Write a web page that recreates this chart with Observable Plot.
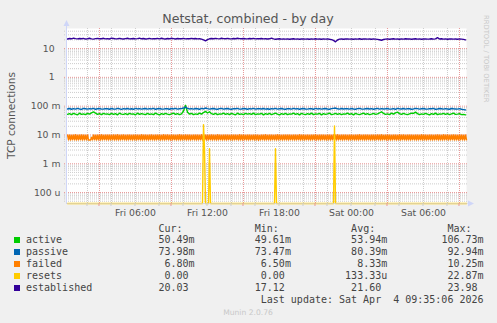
<!DOCTYPE html>
<html><head><meta charset="utf-8">
<script src="https://cdn.jsdelivr.net/npm/d3@7"></script>
<script src="https://cdn.jsdelivr.net/npm/@observablehq/plot@0.6"></script>
<style>html,body{margin:0;padding:0;background:#f0f0f0;overflow:hidden}</style>
</head><body><div id="chart"></div>
<script>
// ---------- text ----------
const title = "Netstat, combined - by day";
const yLabel = "TCP connections";
const watermark = "RRDTOOL / TOBI OETIKER";
const footer = "Munin 2.0.76";
const lastUpdate = "Last update: Sat Apr  4 09:35:06 2026";

// ---------- series ----------
const seriesNames = ["active", "passive", "failed", "resets", "established"];
const seriesColors = ["#00CC00", "#0066B3", "#FF8000", "#FFCC00", "#330099"];
const legendHeaders = ["Cur:", "Min:", "Avg:", "Max:"];
const legendCur = ["50.49m", "73.98m", "6.80m", "0.00 ", "20.03 "];
const legendMin = ["49.61m", "73.47m", "6.50m", "0.00 ", "17.12 "];
const legendAvg = ["53.94m", "80.39m", "8.33m", "133.33u", "21.60 "];
const legendMax = ["106.73m", "92.94m", "10.25m", "22.87m", "23.98 "];

// ---------- axis ticks ----------
const yTicks = [10, 1, 0.1, 0.01, 0.001, 0.0001];
const yTickLabels = ["10\u00a0\u00a0", "1\u00a0\u00a0", "100\u00a0m", "10\u00a0m", "1\u00a0m", "100\u00a0u"];
const xTicks = ["2026-04-03T06:00:00Z", "2026-04-03T12:00:00Z", "2026-04-03T18:00:00Z", "2026-04-04T00:00:00Z", "2026-04-04T06:00:00Z"];
const xTickLabels = ["Fri 06:00", "Fri 12:00", "Fri 18:00", "Sat 00:00", "Sat 06:00"];

// time window (last 400 x 5 min)
const T0 = Date.UTC(2026, 3, 3, 0, 15, 6);
const T1 = Date.UTC(2026, 3, 4, 9, 35, 6);
const Y_MIN = 4.17e-5, Y_MAX = 49.7;

// ---------- values, 10-minute samples (200) ----------
// established (connections)
const established = [
21.5,22.4,21.8,22.9,22.1,21.6,22.3,21.9,22.6,21.4,22.0,22.8,21.7,21.3,22.2,22.5,21.8,22.0,22.7,21.6,
22.1,21.5,22.9,22.3,21.7,22.0,22.6,21.9,21.4,22.2,22.8,21.6,22.0,22.4,21.7,22.1,22.9,21.8,22.3,21.5,
22.0,22.6,21.7,22.2,21.9,22.5,21.6,22.8,22.0,21.4,22.3,21.8,22.7,22.1,21.5,22.4,21.9,22.0,22.6,21.7,
22.2,21.8,22.5,21.9,22.3,21.6,22.0,21.2,20.1,18.6,20.5,21.8,22.4,21.9,22.6,22.1,21.7,22.8,22.2,21.9,
22.5,22.0,21.6,22.3,21.9,22.7,22.1,21.8,22.4,22.0,21.7,22.3,21.9,22.5,21.6,22.1,21.8,22.3,21.7,22.0,
21.4,21.8,23.0,21.6,21.1,21.5,21.9,21.3,21.7,21.2,21.6,21.0,21.5,21.8,21.3,21.6,21.1,21.4,21.7,21.2,
21.5,21.0,21.6,21.3,21.8,21.2,21.5,21.1,21.6,21.3,21.7,21.0,20.4,19.2,17.1,19.8,21.2,21.5,21.0,21.4,
21.7,21.2,21.5,21.0,21.6,21.3,21.8,21.1,21.4,21.7,21.2,21.5,21.0,21.6,21.3,20.8,20.2,19.4,20.6,21.3,
21.6,21.1,21.5,21.8,21.2,21.5,21.0,21.6,21.3,22.0,21.4,21.7,21.1,21.5,21.8,21.2,21.6,21.0,21.4,21.7,
21.2,21.5,21.9,21.3,21.6,23.9,21.5,21.8,21.2,21.6,21.0,21.4,21.7,21.3,21.5,21.1,21.6,21.2,20.8,20.0];
// passive (milli)
const passive = [
80,83,78,82,79,84,80,77,83,81,79,82,80,84,78,81,83,79,80,82,
81,78,83,80,79,84,81,77,82,80,83,79,81,78,84,80,82,79,81,83,
79,82,80,84,78,81,83,80,79,82,81,78,83,80,84,79,81,82,86,93,
84,80,82,79,83,81,78,84,80,86,82,79,81,83,80,78,82,84,79,81,
83,80,78,82,81,84,79,80,83,81,78,82,80,84,79,81,82,80,83,79,
81,78,82,80,84,79,81,83,80,78,82,81,79,84,80,82,78,81,83,80,
79,82,81,78,84,80,82,79,81,83,80,78,82,84,86,81,79,83,80,82,
81,79,83,80,78,82,84,80,79,81,83,80,82,78,81,84,79,82,80,81,
83,79,80,82,78,84,81,80,83,79,82,81,78,80,84,82,79,81,83,80,
79,82,81,84,78,80,83,81,79,82,80,78,83,81,80,79,82,78,76,74];
// active (milli)
const active = [
52,55,51,56,53,50,57,52,54,51,56,53,58,63,57,52,55,51,56,53,
54,51,56,52,55,50,57,53,52,55,51,56,53,54,50,57,52,55,53,51,
56,52,54,51,57,53,50,55,52,56,53,51,54,57,52,55,51,54,68,107,
62,53,56,51,54,52,57,53,60,66,58,64,55,52,56,51,54,53,57,52,
55,51,56,53,50,57,52,54,51,56,53,55,52,57,51,54,53,56,50,55,
52,56,51,54,57,53,50,55,52,56,51,54,53,57,52,55,50,56,53,51,
55,52,57,51,54,53,56,50,55,52,54,57,51,53,56,52,55,51,54,53,
57,52,55,50,56,53,51,54,57,52,55,51,53,56,52,54,58,64,56,52,
54,51,57,53,58,62,55,52,56,53,51,54,57,56,62,55,51,54,52,56,
53,50,55,52,57,51,54,53,56,52,55,51,54,57,52,53,55,51,52,50];
// resets (milli), 5-minute samples (400)
const resets = [
0,0,0,0,0,0,0,0,0,0,0,0,0,0,0,0,0,0,0,0,
0,0,0,0,0,0,0,0,0,0,0,0,0,0,0,0,0,0,0,0,
0,0,0,0,0,0,0,0,0,0,0,0,0,0,0,0,0,0,0,0,
0,0,0,0,0,0,0,0,0,0,0,0,0,0,0,0,0,0,0,0,
0,0,0,0,0,0,0,0,0,0,0,0,0,0,0,0,0,0,0,0,
0,0,0,0,0,0,0,0,0,0,0,0,0,0,0,0,0,0,0,0,
0,0,0,0,0,0,0,0,0,0,0,0,0,0,0,0,22.87,3.33,0,0,
0,0,3.33,0,0,0,0,0,0,0,0,0,0,0,0,0,0,0,0,0,
0,0,0,0,0,0,0,0,0,0,0,0,0,0,0,0,0,0,0,0,
0,0,0,0,0,0,0,0,0,0,0,0,0,0,0,0,0,0,0,0,
0,0,0,0,0,0,0,0,3.33,0,0,0,0,0,0,0,0,0,0,0,
0,0,0,0,0,0,0,0,0,0,0,0,0,0,0,0,0,0,0,0,
0,0,0,0,0,0,0,0,0,0,0,0,0,0,0,0,0,0,0,0,
0,0,0,0,0,0,0,20.5,0,0,0,0,0,0,0,0,0,0,0,0,
0,0,0,0,0,0,0,0,0,0,0,0,0,0,0,0,0,0,0,0,
0,0,0,0,0,0,0,0,0,0,0,0,0,0,0,0,0,0,0,0,
0,0,0,0,0,0,0,0,0,0,0,0,0,0,0,0,0,0,0,0,
0,0,0,0,0,0,0,0,0,0,0,0,0,0,0,0,0,0,0,0,
0,0,0,0,0,0,0,0,0,0,0,0,0,0,0,0,0,0,0,0,
0,0,0,0,0,0,0,0,0,0,0,0,0,0,0,0,0,0,0,0];
// failed (milli), 5-minute samples (400)
const failed = [
10.0,6.7,10.1,6.6,9.9,6.8,10.0,6.7,10.2,6.6,9.9,6.7,10.0,6.8,10.1,6.6,10.0,6.7,9.9,6.7,
10.1,6.6,6.7,6.6,8.3,6.7,10.0,6.8,9.9,6.6,10.1,6.7,10.0,6.6,10.2,6.7,9.9,6.8,10.0,6.7,
10.1,6.6,10.0,6.7,9.9,6.8,10.1,6.6,10.0,6.7,10.2,6.6,9.9,6.7,10.0,6.8,10.1,6.7,9.9,6.6,
10.0,6.7,10.1,6.8,9.9,6.6,10.0,6.7,10.1,6.6,10.0,6.8,9.9,6.7,10.2,6.6,10.0,6.7,10.1,6.7,
9.9,6.6,10.0,6.8,10.1,6.7,9.9,6.6,10.0,6.7,10.1,6.8,10.0,6.6,9.9,6.7,10.2,6.6,10.0,6.8,
10.1,6.7,9.9,6.6,10.0,6.7,10.1,6.8,9.9,6.6,10.0,6.7,10.2,6.6,10.0,6.7,9.9,6.8,10.1,6.6,
10.0,6.7,10.1,6.6,9.9,6.8,10.0,6.7,10.1,6.6,10.0,6.7,9.9,6.8,10.2,6.6,10.0,6.7,10.1,6.6,
9.9,6.7,10.0,6.8,10.1,6.6,10.0,6.7,9.9,6.6,10.25,6.7,10.0,6.8,9.9,6.6,10.1,6.7,10.0,6.6,
10.1,6.8,9.9,6.7,10.0,6.6,10.1,6.7,10.0,6.8,9.9,6.6,10.2,6.7,10.0,6.6,10.1,6.8,9.9,6.7,
10.0,6.6,10.1,6.7,9.9,6.8,10.0,6.6,10.1,6.7,10.0,6.5,9.9,6.7,10.1,6.8,10.0,6.6,10.2,6.7,
9.9,6.7,10.0,6.6,10.1,6.8,9.9,6.7,10.0,6.6,10.2,6.7,10.0,6.8,9.9,6.6,10.1,6.7,10.0,6.7,
10.1,6.6,10.0,6.8,9.9,6.7,10.1,6.6,10.0,6.7,9.9,6.8,10.2,6.6,10.0,6.7,10.1,6.6,9.9,6.8,
10.0,6.7,9.9,6.6,10.1,6.7,10.0,6.8,10.2,6.6,9.9,6.7,10.0,6.6,10.1,6.8,10.0,6.7,9.9,6.6,
10.1,6.7,10.0,6.6,9.9,6.8,10.1,6.7,10.0,6.6,10.2,6.7,9.9,6.8,10.0,6.6,10.1,6.7,10.0,6.8,
9.9,6.6,10.1,6.7,10.0,6.8,9.9,6.6,10.1,6.7,10.0,6.6,10.2,6.8,9.9,6.7,10.0,6.6,10.1,6.7,
10.0,6.8,9.9,6.6,10.1,6.7,10.0,6.6,9.9,6.8,10.1,6.7,10.0,6.6,10.2,6.7,9.9,6.8,10.0,6.6,
10.1,6.7,10.0,6.6,9.9,6.7,10.1,6.8,10.0,6.6,9.9,6.7,10.2,6.6,10.0,6.8,10.1,6.7,9.9,6.6,
10.0,6.7,10.1,6.6,10.0,6.8,9.9,6.7,10.1,6.6,10.0,6.7,9.9,6.8,10.2,6.6,10.0,6.7,10.1,6.6,
9.9,6.8,10.0,6.7,10.1,6.6,9.9,6.7,10.0,6.8,10.1,6.6,10.0,6.7,9.9,6.6,10.2,6.7,10.0,6.8,
10.1,6.6,9.9,6.7,10.0,6.8,10.1,6.6,10.0,6.7,9.9,6.6,10.1,6.8,10.0,6.7,9.9,6.6,10.0,6.8];

// ---------- build tables ----------
const STEP10 = 600e3, STEP5 = 300e3;
function toRows(vals, step, k) {
  return vals.map((v, i) => ({t: new Date(T0 + 300e3 + i * step), v: v * k > 0 ? v * k : Y_MIN}));
}
const dActive = toRows(active, STEP10, 1e-3);
const dPassive = toRows(passive, STEP10, 1e-3);
const dFailed = toRows(failed, STEP5, 1e-3);
const dResets = toRows(resets, STEP5, 1e-3);
const dEstab = toRows(established, STEP10, 1);

// grid positions
const minorX = d3.utcHour.every(2).range(new Date(T0), new Date(T1));
const majorX = d3.utcHour.range(new Date(T0), new Date(T1)).filter(d => d.getUTCHours() % 6 === 3);
const minorY = [];
for (let e = -5; e <= 1; e++) for (let m = 2; m <= 9; m++) { const v = m * Math.pow(10, e); if (v > Y_MIN && v < Y_MAX) minorY.push(v); }
const xTickDates = xTicks.map(s => new Date(s));

const gridGrey = "#cccccc", gridRed = "#e89898", axisCol = "#CFD6F8";
const lw = 1.4;

const chartSvg = Plot.plot({
  width: 497, height: 323,
  marginLeft: 66, marginRight: 31, marginTop: 28, marginBottom: 120,
  style: {background: "#f0f0f0", fontFamily: "DejaVu Sans", fontSize: "9.3px", color: "#555"},
  x: {type: "utc", domain: [new Date(T0), new Date(T1)], ticks: xTickDates,
      tickFormat: d => xTickLabels[xTickDates.findIndex(t => +t === +d)], tickSize: 0, tickPadding: 6, label: null},
  y: {type: "log", domain: [Y_MIN, Y_MAX], ticks: yTicks,
      tickFormat: d => yTickLabels[yTicks.indexOf(d)], tickSize: 0, tickPadding: 6, label: null},
  marks: [
    Plot.frame({fill: "white", stroke: "none"}),
    Plot.ruleY(minorY, {stroke: gridGrey, strokeDasharray: "1,1", strokeWidth: 1, insetLeft: -2, insetRight: -2}),
    Plot.ruleX(minorX, {stroke: gridGrey, strokeDasharray: "1,1", strokeWidth: 1}),
    Plot.ruleY(yTicks, {stroke: gridRed, strokeDasharray: "1,1", strokeWidth: 1, insetLeft: -2, insetRight: -2}),
    Plot.ruleX(majorX, {stroke: gridRed, strokeDasharray: "1,1", strokeWidth: 1}),
    Plot.ruleY([Y_MIN], {stroke: axisCol, strokeWidth: 1}),
    Plot.ruleX([new Date(T0)], {stroke: axisCol, strokeWidth: 1}),
    Plot.line(dActive, {x: "t", y: "v", stroke: seriesColors[0], strokeWidth: lw}),
    Plot.line(dPassive, {x: "t", y: "v", stroke: seriesColors[1], strokeWidth: lw}),
    Plot.line(dFailed, {x: "t", y: "v", stroke: seriesColors[2], strokeWidth: lw}),
    Plot.line(dResets, {x: "t", y: "v", stroke: seriesColors[3], strokeWidth: lw}),
    Plot.line(dEstab, {x: "t", y: "v", stroke: seriesColors[4], strokeWidth: lw})
  ]
});
document.getElementById("chart").appendChild(chartSvg);

// ---------- decorations ----------
const svgSel = d3.select(chartSvg);
const sx = chartSvg.scale("x"), sy = chartSvg.scale("y");
const pxLeft = sx.apply(new Date(T0)), pxRight = sx.apply(new Date(T1));
const pxBottom = sy.apply(Y_MIN), pxTop = sy.apply(Y_MAX);
const g = svgSel.append("g");
// axis extensions + arrows
g.append("line").attr("x1", pxLeft).attr("x2", pxRight + 4).attr("y1", pxBottom + 0.5).attr("y2", pxBottom + 0.5).attr("stroke", axisCol).attr("opacity", 0.6);
g.append("line").attr("x1", pxLeft + 0.5).attr("x2", pxLeft + 0.5).attr("y1", pxBottom).attr("y2", pxTop - 3).attr("stroke", axisCol);
g.append("path").attr("d", `M${pxRight + 2},${pxBottom - 2.5}L${pxRight + 8},${pxBottom + 0.5}L${pxRight + 2},${pxBottom + 3.5}Z`).attr("fill", axisCol);
g.append("path").attr("d", `M${pxLeft - 2.5},${pxTop - 2}L${pxLeft + 0.5},${pxTop - 8}L${pxLeft + 3.5},${pxTop - 2}Z`).attr("fill", axisCol);
// small ticks under x axis
minorX.forEach(d => g.append("line").attr("x1", sx.apply(d)).attr("x2", sx.apply(d)).attr("y1", pxBottom).attr("y2", pxBottom + 3).attr("stroke", gridGrey));
majorX.forEach(d => g.append("line").attr("x1", sx.apply(d)).attr("x2", sx.apply(d)).attr("y1", pxBottom).attr("y2", pxBottom + 3).attr("stroke", gridRed));

// title
g.append("text").attr("x", 248).attr("y", 22.5).attr("text-anchor", "middle")
  .attr("font-family", "DejaVu Sans").attr("font-size", 12.6).attr("fill", "#555").text(title);
// y label
g.append("text").attr("transform", `translate(15,${(pxTop + pxBottom) / 2}) rotate(-90)`).attr("text-anchor", "middle")
  .attr("font-family", "DejaVu Sans").attr("font-size", 10.6).attr("fill", "#555").text(yLabel);
// watermark
g.append("text").attr("transform", "translate(483.5,15) rotate(90)").attr("text-anchor", "start")
  .attr("font-family", "DejaVu Sans").attr("font-size", 6.8).attr("fill", "#c8c8c8").text(watermark);

// legend (monospace)
const legX = 26;
function monoText(str, x, y, anchor) {
  return g.append("text").attr("x", x).attr("y", y).attr("text-anchor", anchor || "start")
    .attr("font-family", "DejaVu Sans Mono").attr("font-size", 10).attr("fill", "#444")
    .attr("xml:space", "preserve").style("white-space", "pre").text(str);
}
const header = "".padEnd(22) + legendHeaders.map((h, i) => i < 3 ? h.padEnd(16) : h).join("");
monoText(header, legX, 231.5);
seriesNames.forEach((name, i) => {
  const base = 243 + 12 * i;
  g.append("rect").attr("x", 14).attr("y", base - 6).attr("width", 6).attr("height", 6).attr("fill", seriesColors[i]);
  const row = name.padEnd(28 - legendCur[i].length) + legendCur[i] + legendMin[i].padStart(16) + legendAvg[i].padStart(16) + legendMax[i].padStart(16);
  monoText(row, legX, base);
});
monoText(lastUpdate, legX + 76 * 6.02, 303.3, "end");
// footer
g.append("text").attr("x", 248).attr("y", 315).attr("text-anchor", "middle")
  .attr("font-family", "DejaVu Sans").attr("font-size", 7.6).attr("fill", "#c8c8c8").text(footer);
</script>
</body></html>
